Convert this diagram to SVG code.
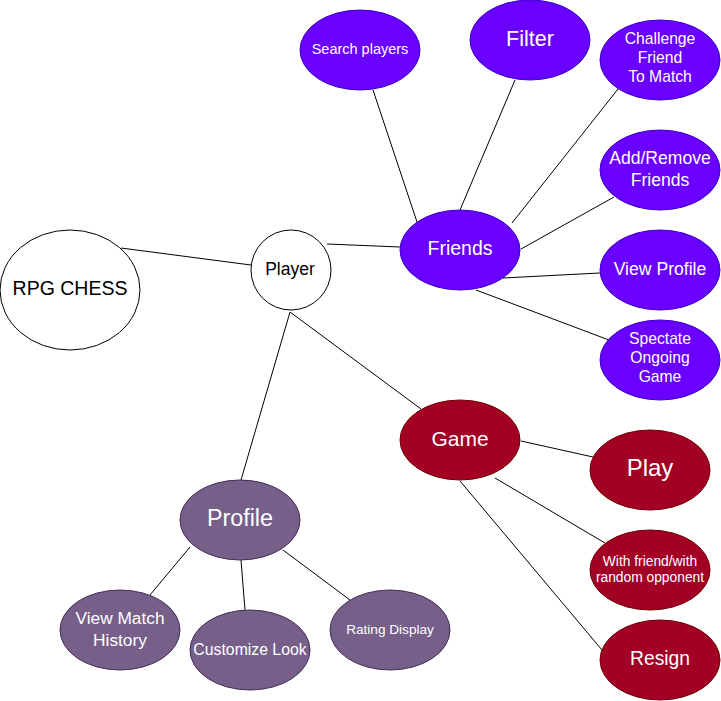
<svg xmlns="http://www.w3.org/2000/svg" width="721" height="701" viewBox="0 0 721 701">
<style>
text{font-family:"Liberation Sans",Arial,sans-serif;text-anchor:middle}
.w{fill:#ffffff;stroke:#000000;stroke-width:1}
.p{fill:#6a00ff;stroke:#3700cc;stroke-width:1}
.c{fill:#a20025;stroke:#6f0000;stroke-width:1}
.m{fill:#76608a;stroke:#432d57;stroke-width:1}
.tw{fill:#ffffff}
.tb{fill:#000000}
#edges line{stroke:#000000;stroke-width:1}
</style>
<rect width="721" height="701" fill="#ffffff"/>
<g id="edges">
<line x1="121" y1="248" x2="251" y2="265"/>
<line x1="327" y1="244" x2="400" y2="247"/>
<line x1="290" y1="312" x2="241" y2="480"/>
<line x1="290" y1="312" x2="421" y2="409"/>
<line x1="417" y1="222" x2="373" y2="90"/>
<line x1="460" y1="210" x2="515" y2="80"/>
<line x1="512" y1="223" x2="618" y2="89"/>
<line x1="521" y1="249" x2="614" y2="197"/>
<line x1="503" y1="278" x2="600" y2="273"/>
<line x1="476" y1="290" x2="609" y2="340"/>
<line x1="521" y1="441" x2="593" y2="457"/>
<line x1="495" y1="478" x2="605" y2="543"/>
<line x1="460" y1="481" x2="602" y2="650"/>
<line x1="190" y1="547" x2="150" y2="595"/>
<line x1="241" y1="560" x2="245" y2="610"/>
<line x1="283" y1="550" x2="350" y2="600"/>
</g>
<g id="rpg-chess"><ellipse class="w" cx="70" cy="290" rx="70" ry="60"/><text class="tb" x="70" y="288" dy="0.35em" font-size="19.5">RPG CHESS</text></g>
<g id="player"><ellipse class="w" cx="291" cy="270" rx="40" ry="40"/><text class="tb" x="290" y="269" dy="0.35em" font-size="17.5">Player</text></g>
<g id="friends"><ellipse class="p" cx="460" cy="250" rx="60" ry="40"/><text class="tw" x="460" y="248" dy="0.35em" font-size="19.5">Friends</text></g>
<g id="search-players"><ellipse class="p" cx="360" cy="50" rx="60" ry="40"/><text class="tw" x="360" y="49" dy="0.35em" font-size="14.5">Search players</text></g>
<g id="filter"><ellipse class="p" cx="530" cy="40" rx="60" ry="40"/><text class="tw" x="530" y="38" dy="0.35em" font-size="21.5">Filter</text></g>
<g id="challenge"><ellipse class="p" cx="660" cy="60" rx="60" ry="40"/><text class="tw" x="660" font-size="15.7"><tspan x="660" y="39" dy="0.35em">Challenge</tspan><tspan x="660" y="58" dy="0.35em">Friend</tspan><tspan x="660" y="77" dy="0.35em">To Match</tspan></text></g>
<g id="add-remove"><ellipse class="p" cx="660" cy="170" rx="60" ry="40"/><text class="tw" x="660" font-size="17.6"><tspan x="660" y="158" dy="0.35em">Add/Remove</tspan><tspan x="660" y="180" dy="0.35em">Friends</tspan></text></g>
<g id="view-profile"><ellipse class="p" cx="660" cy="270" rx="60" ry="40"/><text class="tw" x="660" y="269" dy="0.35em" font-size="17.6">View Profile</text></g>
<g id="spectate"><ellipse class="p" cx="660" cy="360" rx="60" ry="40"/><text class="tw" x="660" font-size="15.7"><tspan x="660" y="339" dy="0.35em">Spectate</tspan><tspan x="660" y="358" dy="0.35em">Ongoing</tspan><tspan x="660" y="377" dy="0.35em">Game</tspan></text></g>
<g id="game"><ellipse class="c" cx="460" cy="440" rx="60" ry="40"/><text class="tw" x="460" y="439" dy="0.35em" font-size="21">Game</text></g>
<g id="play"><ellipse class="c" cx="650" cy="470" rx="60" ry="40"/><text class="tw" x="650" y="468" dy="0.35em" font-size="24">Play</text></g>
<g id="with-friend"><ellipse class="c" cx="650" cy="570" rx="60" ry="40"/><text class="tw" x="650" font-size="13.8"><tspan x="650" y="561" dy="0.35em">With friend/with</tspan><tspan x="650" y="577" dy="0.35em">random opponent</tspan></text></g>
<g id="resign"><ellipse class="c" cx="660" cy="660" rx="60" ry="40"/><text class="tw" x="660" y="658" dy="0.35em" font-size="19.3">Resign</text></g>
<g id="profile"><ellipse class="m" cx="240" cy="520" rx="60" ry="40"/><text class="tw" x="240" y="518" dy="0.35em" font-size="23.3">Profile</text></g>
<g id="view-match-history"><ellipse class="m" cx="120" cy="630" rx="60" ry="40"/><text class="tw" x="120" font-size="17.3"><tspan x="120" y="618" dy="0.35em">View Match</tspan><tspan x="120" y="640" dy="0.35em">History</tspan></text></g>
<g id="customize-look"><ellipse class="m" cx="250" cy="650" rx="60" ry="40"/><text class="tw" x="250" y="649" dy="0.35em" font-size="15.8">Customize Look</text></g>
<g id="rating-display"><ellipse class="m" cx="390" cy="630" rx="60" ry="40"/><text class="tw" x="390" y="629" dy="0.35em" font-size="13.6">Rating Display</text></g>
</svg>
